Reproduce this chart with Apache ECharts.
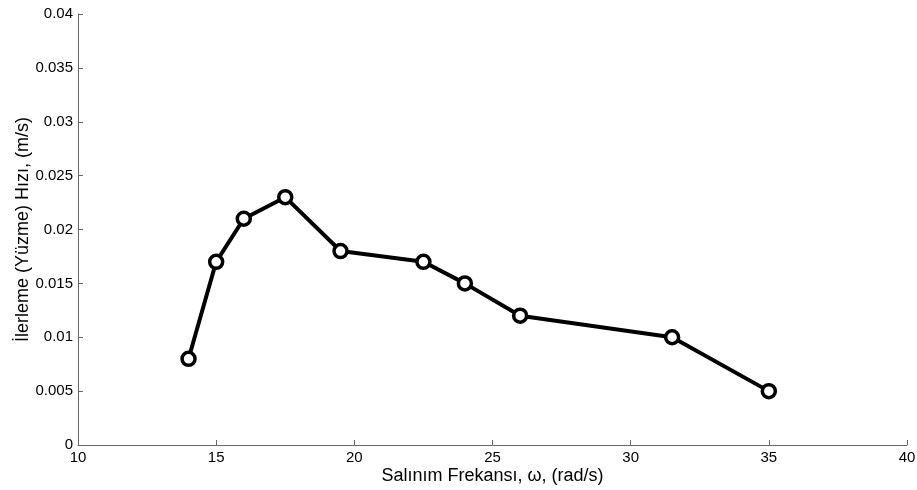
<!DOCTYPE html>
<html>
<head>
<meta charset="utf-8">
<script src="https://cdn.jsdelivr.net/npm/echarts@6/dist/echarts.min.js"></script>
<style>
  html, body { margin: 0; padding: 0; background: #fff; }
  #chart { width: 917px; height: 490px; }
</style>
</head>
<body>
<div id="chart"></div>
<script>
// frekans (rad/s) ve ilerleme hızı (m/s)
var frequency = [14, 15, 16, 17.5, 19.5, 22.5, 24, 26, 31.5, 35];
var speed = [0.008, 0.017, 0.021, 0.023, 0.018, 0.017, 0.015, 0.012, 0.010, 0.005];
var xTicks = [10, 15, 20, 25, 30, 35, 40];
var yTicks = [0, 0.005, 0.01, 0.015, 0.02, 0.025, 0.03, 0.035, 0.04];

var points = [];
for (var i = 0; i < frequency.length; i++) {
  points.push([frequency[i], speed[i]]);
}

var myChart = echarts.init(document.getElementById("chart"));
var font = "Liberation Sans, Arial, sans-serif";
var option = {
  animation: false,
  grid: { left: 78, right: 10, top: 14, bottom: 45, containLabel: false, outerBoundsMode: "none" },
  xAxis: {
    type: "value",
    min: xTicks[0],
    max: xTicks[xTicks.length - 1],
    interval: 5,
    name: "Salınım Frekansı, ω, (rad/s)",
    nameLocation: "middle",
    nameGap: 22,
    nameMoveOverlap: false,
    nameTextStyle: { color: "#000", fontSize: 18, fontFamily: font },
    axisLine: { lineStyle: { color: "#666", width: 1 } },
    axisTick: { inside: true, length: 5, lineStyle: { color: "#666" } },
    axisLabel: { color: "#000", fontSize: 15, fontFamily: font, margin: 5 },
    splitLine: { show: false }
  },
  yAxis: {
    type: "value",
    min: yTicks[0],
    max: yTicks[yTicks.length - 1],
    interval: 0.005,
    name: "İlerleme (Yüzme) Hızı, (m/s)",
    nameLocation: "middle",
    nameGap: 46,
    nameMoveOverlap: false,
    nameTextStyle: { color: "#000", fontSize: 18, fontFamily: font },
    axisLine: { show: true, lineStyle: { color: "#666", width: 1 } },
    axisTick: { show: true, inside: true, length: 5, lineStyle: { color: "#666" } },
    axisLabel: {
      color: "#000", fontSize: 15, fontFamily: font, margin: 5,
      formatter: function (v) { return String(parseFloat(v.toFixed(3))); }
    },
    splitLine: { show: false }
  },
  series: [
    {
      type: "line",
      data: points,
      symbol: "circle",
      symbolSize: 13,
      showAllSymbol: true,
      lineStyle: { color: "#000", width: 4 },
      itemStyle: { color: "#fff", borderColor: "#000", borderWidth: 3.5 }
    }
  ]
};
myChart.setOption(option);
</script>
</body>
</html>
